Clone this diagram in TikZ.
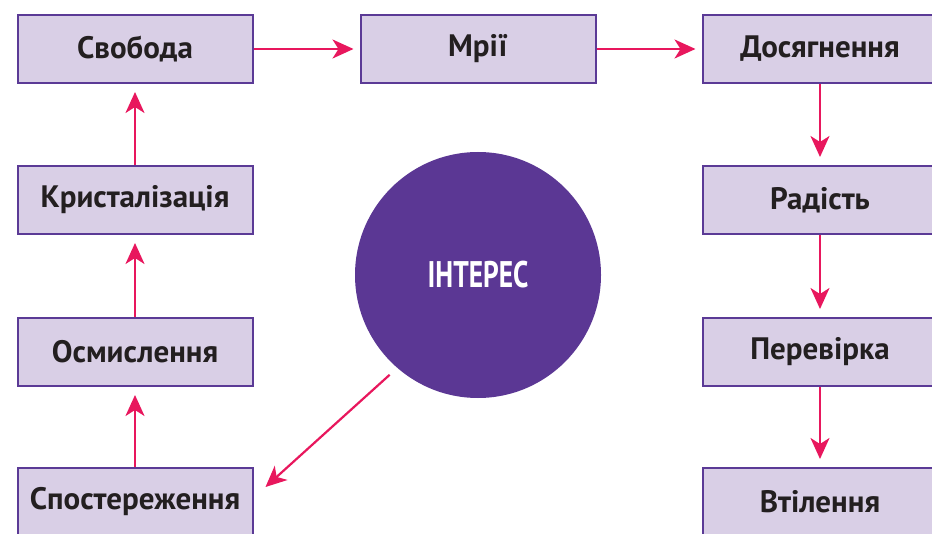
\documentclass[tikz,border=0pt]{standalone}
\usepackage{fontspec}
\setmainfont{PT Sans}
\newfontfamily\narrowfont[FakeStretch=0.74]{PT Sans}
\usetikzlibrary{calc,arrows.meta}

\definecolor{boxfill}{HTML}{D9CFE6}
\definecolor{boxline}{HTML}{5B3A96}
\definecolor{ballfill}{HTML}{5B3794}
\definecolor{arrowpink}{HTML}{E8175D}
\definecolor{inkdark}{HTML}{231F20}

\begin{document}
\begin{tikzpicture}[x=0.5pt,y=-0.5pt,
    stage/.style={draw=boxline, fill=boxfill, line width=1pt, minimum width=117.5pt,
      minimum height=34pt, inner sep=0pt, text=inkdark, font=\fontsize{15.5}{18}\selectfont\bfseries},
    flow/.style={draw=arrowpink, line width=1.1pt, -{Stealth[length=10.5pt,width=9.5pt,inset=3pt]}}]
    \useasboundingbox (0,0) rectangle (932,534);
    \begin{scope}
    \clip (0,0) rectangle (932,534);
    \node[stage] at (135,49) (svoboda) {Свобода};
    \node[stage] at (478,49) (mrii) {Мрії};
    \node[stage] at (820,49) (dosyag) {Досягнення};
    \node[stage] at (820,200) (radist) {Радість};
    \node[stage] at (820,352) (perev) {Перевірка};
    \node[stage] at (820,502) (vtil) {Втілення};
    \node[stage] at (135,200) (kryst) {Кристалізація};
    \node[stage] at (135,352) (osmys) {Осмислення};
    \node[stage] at (135,502) (spost) {Спостереження};
    \node[circle, fill=ballfill, minimum size=123pt, text=white,
      font=\fontsize{18.5}{20}\selectfont\narrowfont\bfseries] at (478,275) (interes) {ІНТЕРЕС};
    \end{scope}
    \draw[flow, shorten >=3pt] (svoboda.east) -- (mrii.west);
    \draw[flow, shorten >=3pt] (mrii.east) -- (dosyag.west);
    \draw[flow, shorten >=4pt] (dosyag.south) -- (radist.north);
    \draw[flow, shorten >=4pt] (radist.south) -- (perev.north);
    \draw[flow, shorten >=4pt] (perev.south) -- (vtil.north);
    \draw[flow, shorten >=4pt] (spost.north) -- (osmys.south);
    \draw[flow, shorten >=4pt] (osmys.north) -- (kryst.south);
    \draw[flow, shorten >=4pt] (kryst.north) -- (svoboda.south);
    \coordinate (spin) at ($(spost.east)+(12,-15)$);
    \draw[flow, shorten <=5pt] (interes.229) -- (spin);
\end{tikzpicture}
\end{document}
